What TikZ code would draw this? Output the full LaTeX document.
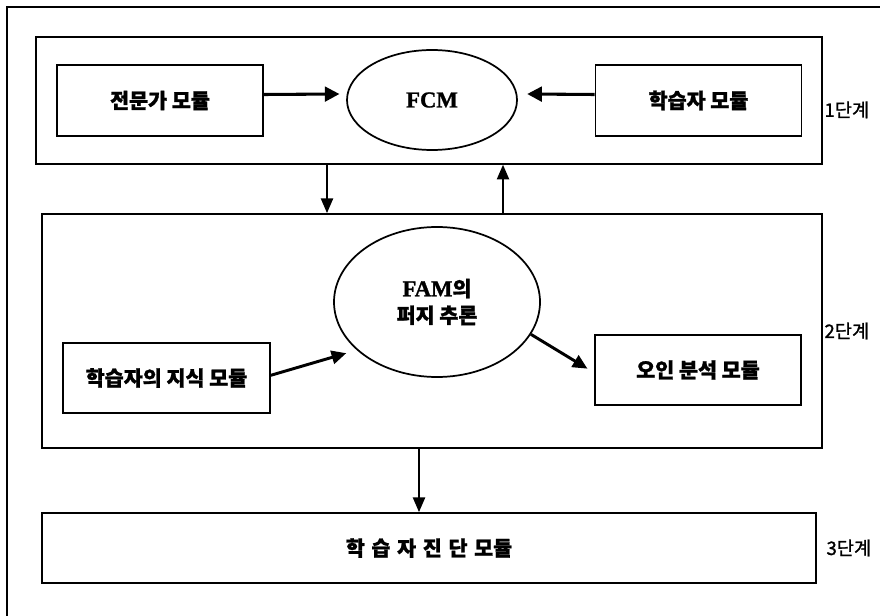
\documentclass[tikz,border=0pt]{standalone}
\usepackage{fontspec}
\setmainfont{Noto Sans CJK KR}[FakeBold=1.2]
\newfontfamily\latf{Liberation Serif}[FakeBold=1.2]
\usetikzlibrary{arrows.meta,shapes.geometric,calc}
\begin{document}
\begin{tikzpicture}[x=0.75pt,y=-0.75pt,
  stage/.style={draw,line width=1.3pt,inner sep=0,minimum width=#1},
  modbox/.style={draw,line width=1.3pt,inner sep=0,minimum width=154.5pt,minimum height=53pt,font=\fontsize{15.5pt}{18pt}\selectfont\bfseries},
  oval/.style={draw,ellipse,line width=1.3pt,inner sep=0,font=\fontsize{15.5pt}{20pt}\selectfont\bfseries,align=center},
  lbl/.style={anchor=west,inner sep=1pt,font=\fontsize{14pt}{16pt}\selectfont},
  thickarr/.style={line width=2.3pt,-{Triangle[length=11pt,width=11pt]}},
  vertarr/.style={line width=1.6pt,-{Triangle[length=11pt,width=9pt]}}
]
\useasboundingbox (0,0) rectangle (880,616);
% outer frame (right and bottom edges fall outside the picture)
\draw[line width=1.3pt] (7,7) rectangle (895,640);

% stage boxes
\node[stage=589.5pt,minimum height=95pt] (s1) at (429,100.5) {};
\node[stage=585pt,minimum height=175.5pt] (s2) at (432,331) {};
\node[stage=580.5pt,minimum height=52.5pt,font=\fontsize{15.5pt}{18pt}\selectfont\bfseries] (s3) at (429,548) {학\hspace{5pt}습\hspace{5pt}자\hspace{5pt}진\hspace{5pt}단\hspace{5pt}모듈};

% stage 1
\node[modbox] (expert) at (160,100.5) {전문가 모듈};
\node[modbox] (learner) at (698.5,100.5) {학습자 모듈};
\node[oval,minimum width=127.5pt,minimum height=75pt,font=\fontsize{17pt}{20pt}\selectfont\bfseries] (fcm) at (432,100) {\latf FCM};

% stage 2
\node[oval,minimum width=154.5pt,minimum height=112.5pt] (fam) at (437,302) {{\latf\fontsize{17pt}{20pt}\selectfont FAM}의\\퍼지 추론};
\node[modbox,minimum width=155pt,minimum height=52.5pt] (know) at (166.5,378) {학습자의 지식 모듈};
\node[modbox,minimum width=154.5pt,minimum height=52.5pt] (err) at (698,370) {오인 분석 모듈};

% labels
\node[lbl,yshift=-7pt] at (s1.east) {1단계};
\node[lbl] at (s2.east) {2단계};
\node[lbl,xshift=6pt] at (s3.east) {3단계};

% connectors
\draw[thickarr] ([yshift=4.5pt]expert.east) -- ([yshift=4.5pt,xshift=-5pt]fcm.west);
\draw[thickarr] ([yshift=4.5pt]learner.west) -- ([yshift=4.5pt,xshift=7pt]fcm.east);
\draw[vertarr] ([xshift=-76.5pt]s1.south) -- ([xshift=-76.5pt]s1.south |- s2.north);
\draw[vertarr] ([xshift=55.5pt]s1.south |- s2.north) -- ([xshift=55.5pt]s1.south);
\draw[line width=2.2pt,-{Triangle[length=11pt,width=10pt]}] ([yshift=2pt]know.east) -- ([xshift=-6pt,yshift=-4pt]fam.209);
\draw[line width=2.2pt,-{Triangle[length=11pt,width=10pt]}] (fam.-19) -- ([xshift=-5pt,yshift=1pt]err.west);
\draw[vertarr] (s2.south -| 419,0) -- (s3.north -| 419,0);
\end{tikzpicture}
\end{document}
